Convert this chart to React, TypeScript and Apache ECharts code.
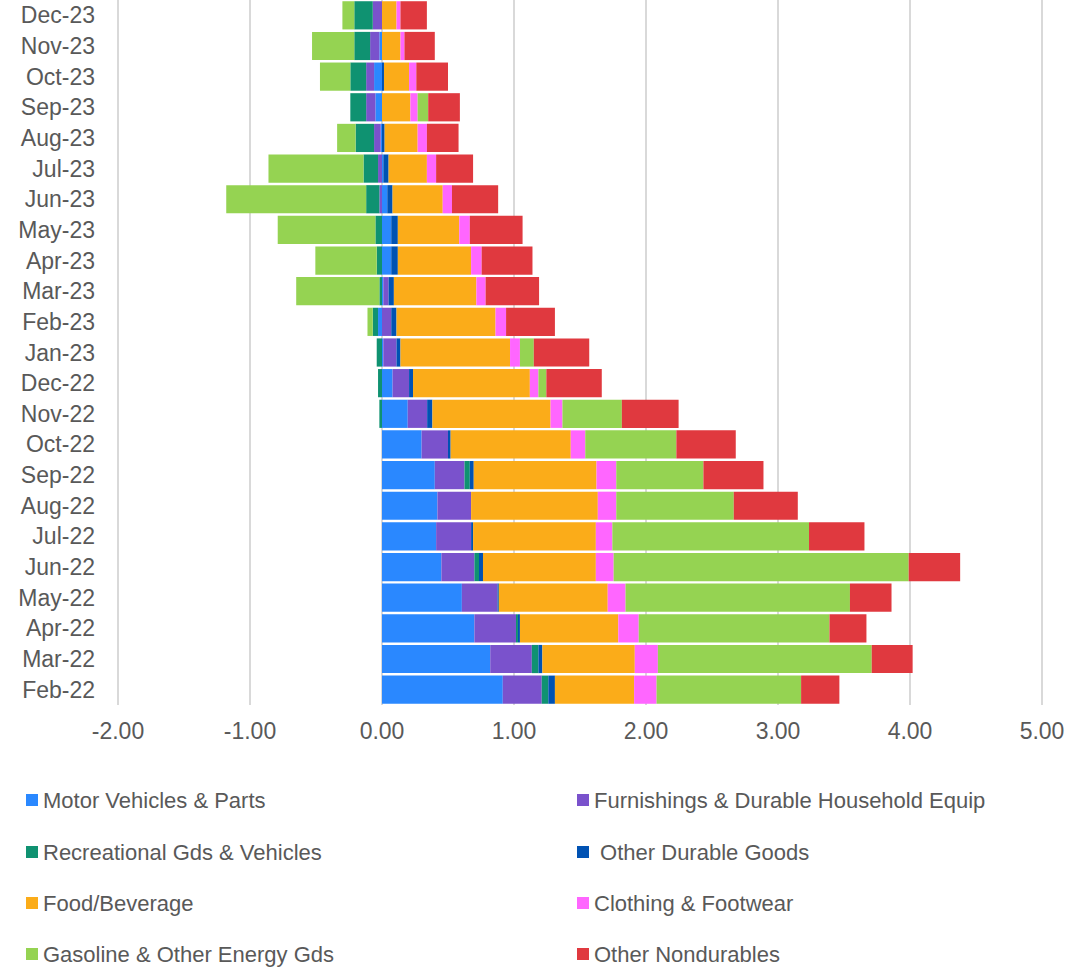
import React, { useEffect, useRef } from "react";
import * as echarts from "echarts";

const categories = [
  "Feb-22", "Mar-22", "Apr-22", "May-22", "Jun-22", "Jul-22", "Aug-22", "Sep-22",
  "Oct-22", "Nov-22", "Dec-22", "Jan-23", "Feb-23", "Mar-23", "Apr-23", "May-23",
  "Jun-23", "Jul-23", "Aug-23", "Sep-23", "Oct-23", "Nov-23", "Dec-23",
];

const motorVehicles = [0.915, 0.82, 0.7, 0.605, 0.45, 0.41, 0.42, 0.4, 0.3, 0.195, 0.08, 0.01, -0.03, 0.01, 0.07, 0.07, 0.04, 0.01, -0.01, -0.05, -0.06, -0.02, 0];
const furnishings = [0.295, 0.315, 0.315, 0.27, 0.25, 0.265, 0.255, 0.225, 0.2, 0.147, 0.125, 0.1, 0.07, 0.04, 0, 0, -0.02, -0.03, -0.05, -0.07, -0.06, -0.07, -0.07];
const recreational = [0.05, 0.05, 0.015, 0, 0.035, 0, 0, 0.04, 0, -0.02, -0.03, -0.04, -0.04, -0.02, -0.04, -0.05, -0.1, -0.11, -0.14, -0.12, -0.12, -0.12, -0.14];
const otherDurable = [0.05, 0.03, 0.015, 0.01, 0.03, 0.015, 0, 0.03, 0.02, 0.04, 0.03, 0.03, 0.04, 0.04, 0.05, 0.05, 0.04, 0.04, 0.02, 0, 0.015, 0, 0];
const foodBeverage = [0.6, 0.7, 0.745, 0.825, 0.855, 0.93, 0.96, 0.93, 0.91, 0.895, 0.885, 0.83, 0.75, 0.625, 0.555, 0.465, 0.38, 0.29, 0.25, 0.215, 0.19, 0.14, 0.11];
const clothing = [0.17, 0.175, 0.155, 0.135, 0.135, 0.125, 0.14, 0.15, 0.11, 0.09, 0.065, 0.075, 0.08, 0.07, 0.08, 0.08, 0.07, 0.07, 0.07, 0.055, 0.055, 0.03, 0.03];
const gasoline = [1.095, 1.62, 1.445, 1.7, 2.235, 1.49, 0.89, 0.66, 0.69, 0.45, 0.06, 0.105, -0.04, -0.63, -0.465, -0.74, -1.06, -0.72, -0.14, 0.08, -0.23, -0.32, -0.09];
const otherNondurables = [0.29, 0.31, 0.28, 0.315, 0.39, 0.42, 0.485, 0.455, 0.45, 0.43, 0.42, 0.42, 0.37, 0.405, 0.385, 0.4, 0.35, 0.28, 0.24, 0.24, 0.24, 0.23, 0.2];

const seriesNames = [
  "Motor Vehicles & Parts",
  "Furnishings & Durable Household Equip",
  "Recreational Gds & Vehicles",
  " Other Durable Goods",
  "Food/Beverage",
  "Clothing & Footwear",
  "Gasoline & Other Energy Gds",
  "Other Nondurables",
];
const seriesData = [motorVehicles, furnishings, recreational, otherDurable, foodBeverage, clothing, gasoline, otherNondurables];
const seriesColors = ["#2a88ff", "#7a52cc", "#0f9271", "#0052b3", "#fbac19", "#ff66ff", "#95d352", "#e0393f"];

const xTicks = { min: -2, max: 5, interval: 1 };

const FONT = "'Liberation Sans', Arial, sans-serif";
const TEXT = "#595959";

export default function App() {
  const ref = useRef<HTMLDivElement>(null);

  useEffect(() => {
    if (!ref.current) return;
    const chart = echarts.init(ref.current, undefined, { renderer: "svg" });

    const legendPos = [
      { left: 26, top: 789 },
      { left: 577, top: 789 },
      { left: 26, top: 841 },
      { left: 577, top: 841 },
      { left: 26, top: 892 },
      { left: 577, top: 892 },
      { left: 26, top: 943 },
      { left: 577, top: 943 },
    ];

    const option = {
      animation: false,
      grid: { left: 118, right: 29, top: 0, bottom: 263, containLabel: false },
      xAxis: {
        type: "value",
        min: xTicks.min,
        max: xTicks.max,
        interval: xTicks.interval,
        axisLine: { show: false },
        axisTick: { show: false },
        splitLine: { show: true, lineStyle: { color: "#d9d9d9", width: 2 } },
        axisLabel: {
          formatter: (v: number) => v.toFixed(2),
          fontSize: 23,
          color: TEXT,
          fontFamily: FONT,
          margin: 14,
        },
      },
      yAxis: {
        type: "category",
        data: categories,
        axisLine: { show: false },
        axisTick: { show: false },
        splitLine: { show: false },
        axisLabel: { fontSize: 23, color: TEXT, fontFamily: FONT, margin: 23 },
      },
      legend: seriesNames.map((name, i) => ({
        data: [name],
        left: legendPos[i].left,
        top: legendPos[i].top,
        padding: 0,
        itemWidth: 12,
        itemHeight: 12,
        icon: "rect",
        selectedMode: false,
        textStyle: { fontSize: 22, color: TEXT, fontFamily: FONT },
      })),
      series: seriesNames.map((name, i) => ({
        name,
        type: "bar",
        stack: "total",
        barCategoryGap: "8%",
        data: seriesData[i],
        itemStyle: { color: seriesColors[i] },
        emphasis: { disabled: true },
      })),
    };

    chart.setOption(option as any);
    return () => chart.dispose();
  }, []);

  return (
    <div
      ref={ref}
      style={{ position: "fixed", left: 0, top: 0, width: 1071, height: 968, background: "#fff" }}
    />
  );
}
